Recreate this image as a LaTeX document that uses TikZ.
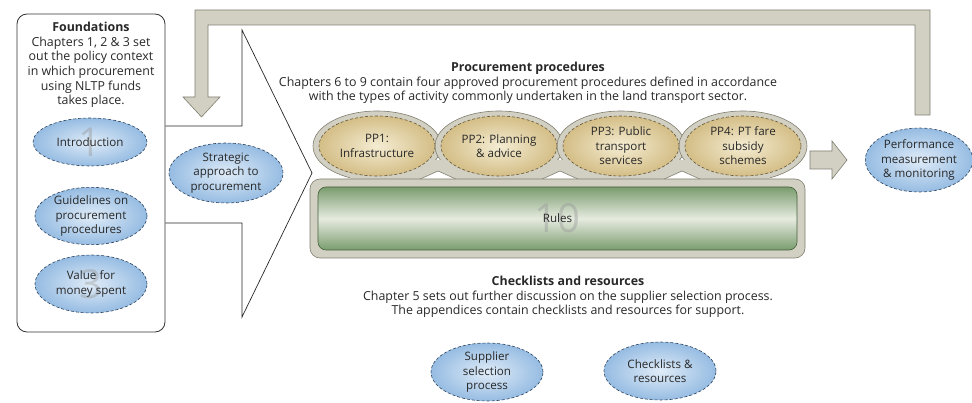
\documentclass[tikz,border=0pt]{standalone}
\usepackage{fontspec}
\setmainfont{Open Sans}
\usetikzlibrary{shapes.geometric}
\usetikzlibrary{calc}

\definecolor{bandfill}{RGB}{210,208,194}
\definecolor{banddraw}{RGB}{128,126,112}
\definecolor{blueedge}{RGB}{150,188,226}
\definecolor{bluecore}{RGB}{224,236,248}
\definecolor{blueline}{RGB}{45,66,92}
\definecolor{tanedge}{RGB}{212,190,135}
\definecolor{tancore}{RGB}{244,236,210}
\definecolor{tanline}{RGB}{100,86,58}
\definecolor{greenedge}{RGB}{122,156,110}
\definecolor{greencore}{RGB}{230,235,224}
\definecolor{greenline}{RGB}{68,96,60}
\definecolor{inktext}{RGB}{40,40,40}
\definecolor{ghost}{RGB}{150,150,150}

\newcommand{\ghostfont}{\fontsize{40}{40}\selectfont}
\newcommand{\bodyfont}{\fontsize{12.4}{14.6}\selectfont}
\newcommand{\bubblefont}{\fontsize{11.6}{14.5}\selectfont}

\tikzset{
  chapter/.style={ellipse, inner sep=0pt, minimum width=112pt, minimum height=56pt,
    shading=radial, inner color=bluecore, outer color=blueedge,
    draw=blueline, densely dashed, line width=0.6pt,
    align=center, text=inktext, font=\bubblefont,
    path picture={\node[text=ghost, font=\ghostfont, opacity=0.4]
      at (path picture bounding box.center) {#1};}},
  chapter/.default={},
  ring/.style={ellipse, minimum width=128pt, minimum height=70pt,
    fill=bandfill, draw=banddraw, line width=0.6pt},
  pp/.style={ellipse, inner sep=0pt, minimum width=116pt, minimum height=60pt,
    shading=radial, inner color=tancore, outer color=tanedge,
    draw=tanline, densely dashed, line width=0.6pt,
    align=center, text=inktext, font=\bubblefont},
  rulesframe/.style={rectangle, rounded corners=10pt, minimum width=495pt,
    minimum height=79pt, fill=bandfill, draw=banddraw, line width=0.6pt},
  rulesbar/.style={rectangle, rounded corners=8pt, minimum width=479pt,
    minimum height=63pt, top color=greenedge, bottom color=greenedge,
    middle color=greencore, draw=greenline, line width=0.6pt,
    font=\bubblefont, text=inktext,
    path picture={\node[text=ghost, font=\ghostfont, opacity=0.4]
      at (path picture bounding box.center) {#1};}},
  blockarrow/.style={fill=bandfill, draw=banddraw, line width=0.6pt},
  outline/.style={draw=black!85, line width=0.7pt},
  textblock/.style={align=center, font=\bodyfont, text=inktext}
}

\begin{document}
\begin{tikzpicture}[x=1pt, y=-1pt]
  \useasboundingbox (0,0) rectangle (972,403);

  % foundations panel
  \node[draw=black!80, line width=0.8pt, rounded corners=10pt,
        minimum width=148pt, minimum height=318pt] (found) at (91,173) {};
  \node[textblock] (foundtext) at (91,65)
    {\textbf{Foundations}\\Chapters 1, 2 \& 3 set\\out the policy context\\
     in which procurement\\using NLTP funds\\takes place.};
  \node[chapter=1, minimum width=114pt, minimum height=48pt] (intro) at (90,142) {Introduction};
  \node[chapter] (guide) at (91,216) {Guidelines on\\procurement\\procedures};
  \node[chapter=3, minimum height=58pt] (value) at (91,284) {Value for\\money spent};

  % big arrow outline
  \coordinate (tip) at (312,173);
  \draw[outline] (found.east |- 0,126) -- (242,126) -- (242,30) -- (tip)
    -- (242,317) -- (242,223) -- (found.east |- 0,223);
  \node[chapter, minimum width=114pt, minimum height=60pt] (strat) at (226,173)
    {Strategic\\approach to\\procurement};

  % feedback arrow
  \draw[blockarrow] (915,115) -- (915,25) -- (208,25) -- (208,97) -- (220,97)
    -- (201.5,117) -- (183,97) -- (195,97) -- (195,10) -- (930,10)
    -- (930,115) -- cycle;

  % procurement procedures
  \node[textblock] (proctext) at (528,83)
    {\textbf{Procurement procedures}\\
     Chapters 6 to 9 contain four approved procurement procedures defined in accordance\\
     with the types of activity commonly undertaken in the land transport sector.};
  \node[ring] (ring1) at (377,146) {};
  \node[ring] (ring2) at (499,146) {};
  \node[ring] (ring3) at (621,146) {};
  \node[ring] (ring4) at (743,146) {};
  \fill[bandfill] (350,160) rectangle (770,181);
  \foreach \jx in {438,560,682}
    \filldraw[fill=white, draw=banddraw, line width=0.6pt]
      (\jx-20,180) -- (\jx,171) -- (\jx+20,180);
  \node[rulesframe] (frame) at (557.5,218.5) {};
  \node[rulesbar=10] (rules) at (frame) {Rules};
  \node[pp] (pp1) at (ring1) {PP1:\\Infrastructure};
  \node[pp] (pp2) at (ring2) {PP2: Planning\\\& advice};
  \node[pp] (pp3) at (ring3) {PP3: Public\\transport\\services};
  \node[pp] (pp4) at (ring4) {PP4: PT fare\\subsidy\\schemes};

  % arrow to performance
  \node[chapter, minimum width=104pt, minimum height=64pt] (perf) at (919,160)
    {Performance\\measurement\\\& monitoring};
  \coordinate (arrtip) at ($(perf.west)+(-18,0)$);
  \draw[blockarrow] ($(arrtip)+(-37,-9)$) -- ($(arrtip)+(-15,-9)$)
    -- ($(arrtip)+(-15,-19)$) -- (arrtip) -- ($(arrtip)+(-15,19)$)
    -- ($(arrtip)+(-15,9)$) -- ($(arrtip)+(-37,9)$) -- cycle;

  % checklists and resources
  \node[textblock] (checktext) at (568,297)
    {\textbf{Checklists and resources}\\
     Chapter 5 sets out further discussion on the supplier selection process.\\
     The appendices contain checklists and resources for support.};
  \node[chapter, minimum height=58pt] (supplier) at (487,372)
    {Supplier\\selection\\process};
  \node[chapter, minimum height=58pt] (checks) at (660,371)
    {Checklists \&\\resources};
\end{tikzpicture}
\end{document}
